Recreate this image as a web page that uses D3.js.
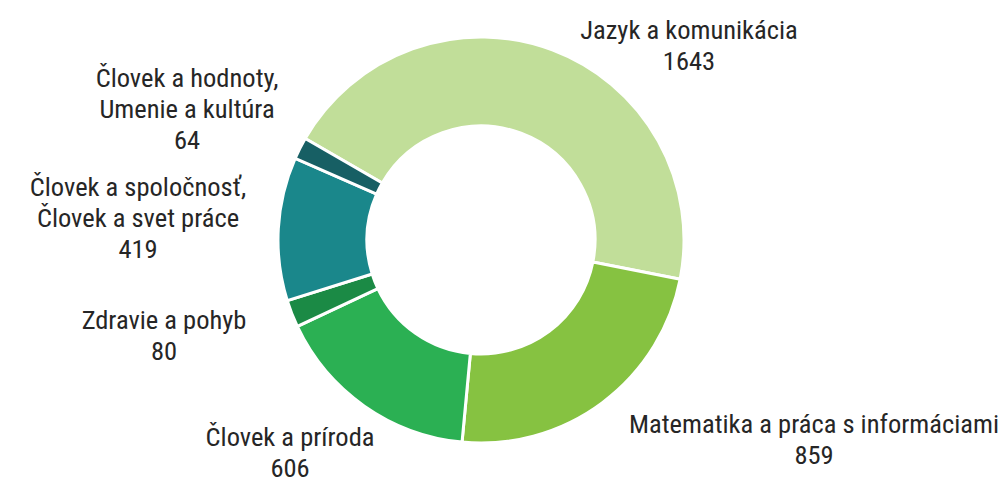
<!DOCTYPE html>
<html>
<head>
<meta charset="utf-8">
<script src="https://cdn.jsdelivr.net/npm/d3@7"></script>
<style>
  body { margin: 0; background: #fff; }
  text { font-family: "Roboto Condensed", Roboto, sans-serif; font-stretch: condensed; fill: #262626; }
</style>
</head>
<body>
<svg id="donut" width="1005" height="478"></svg>
<script>
// data
var categories = ["Jazyk a komunikácia", "Matematika a práca s informáciami", "Človek a príroda",
                  "Zdravie a pohyb", "Človek a spoločnosť, Človek a svet práce", "Človek a hodnoty, Umenie a kultúra"];
var values = [1643, 859, 606, 80, 419, 64];
var labelLines = [
  ["Jazyk a komunikácia"],
  ["Matematika a práca s informáciami"],
  ["Človek a príroda"],
  ["Zdravie a pohyb"],
  ["Človek a spoločnosť,", "Človek a svet práce"],
  ["Človek a hodnoty,", "Umenie a kultúra"]
];
var colors = ["#c1de99", "#86c241", "#2bb053", "#1b8a45", "#1a878b", "#175f64"];

// layout (label anchors, as placed in the original)
var labelAt = [[689, 30], [814, 424], [290, 437], [164, 320], [138, 187], [187, 78]];

var svg = d3.select("#donut"),
    cx = 481, cy = 240,
    outerR = 203, innerR = 114,
    lineH = 31;

var pie = d3.pie()
  .sort(null)
  .value(function(d) { return d; })
  .startAngle(-60 * Math.PI / 180)
  .endAngle(300 * Math.PI / 180);

var arc = d3.arc().innerRadius(innerR).outerRadius(outerR);

var g = svg.append("g").attr("transform", "translate(" + cx + "," + cy + ")");

g.selectAll("path")
  .data(pie(values))
  .enter()
  .append("path")
  .attr("d", arc)
  .attr("fill", function(d, i) { return colors[i]; })
  .attr("stroke", "#fff")
  .attr("stroke-width", 3);

var labels = svg.append("g")
  .selectAll("text")
  .data(values)
  .enter()
  .append("text")
  .attr("text-anchor", "middle")
  .attr("font-size", 26.5)
  .attr("transform", function(d, i) { return "translate(" + labelAt[i][0] + "," + labelAt[i][1] + ")"; });

labels.each(function(d, i) {
  var t = d3.select(this);
  var lines = labelLines[i].concat([String(d)]);
  lines.forEach(function(s, k) {
    t.append("tspan").attr("x", 0).attr("y", k * lineH).attr("dy", "0.35em").text(s);
  });
});
</script>
</body>
</html>
